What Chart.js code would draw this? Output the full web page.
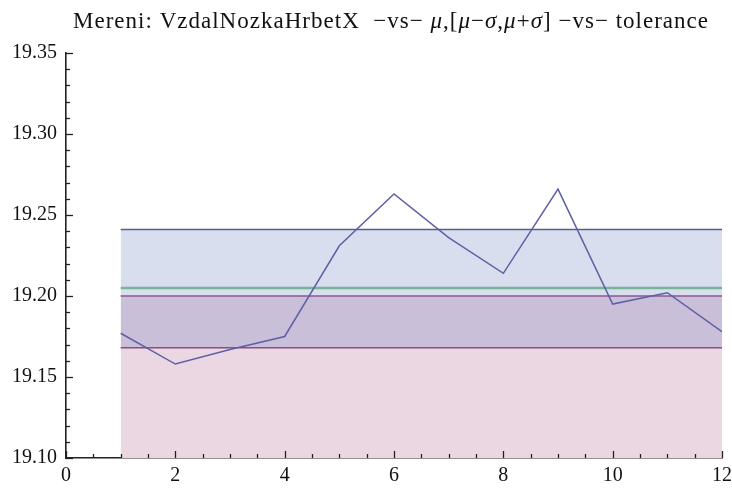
<!DOCTYPE html>
<html>
<head>
<meta charset="utf-8">
<script src="https://cdn.jsdelivr.net/npm/chart.js@4/dist/chart.umd.min.js"></script>
<style>
  html, body { margin: 0; padding: 0; background: #fff; }
  #wrap { width: 732px; height: 488px; position: relative; }
</style>
</head>
<body>
<div id="wrap"><canvas id="c" width="732" height="488"></canvas></div>
<script>
// Measurement index and measured values
const sampleIndex = [1, 2, 3, 4, 5, 6, 7, 8, 9, 10, 11, 12];
const measured = [19.177, 19.158, 19.167, 19.175, 19.231, 19.263, 19.236, 19.214, 19.266, 19.195, 19.202, 19.178];

// Statistics and tolerance limits
const meanValue = 19.205;
const sigmaLower = 19.168;
const sigmaUpper = 19.241;
const toleranceLower = 19.10;
const toleranceUpper = 19.20;

// Axis ticks
const xTickLabels = [0, 2, 4, 6, 8, 10, 12];
const yTickLabels = [19.10, 19.15, 19.20, 19.25, 19.30, 19.35];

const flat = v => sampleIndex.map(x => ({ x, y: v }));
const series = sampleIndex.map((x, i) => ({ x, y: measured[i] }));

const serif = '"Liberation Serif", "DejaVu Serif", serif';

// Title built from upright and italic runs
const titleRuns = [
  ['Mereni: VzdalNozkaHrbetX  \u2212vs\u2212 ', ''],
  ['\u03bc', 'italic '],
  [',[', ''],
  ['\u03bc', 'italic '],
  ['\u2212', ''],
  ['\u03c3', 'italic '],
  [',', ''],
  ['\u03bc', 'italic '],
  ['+', ''],
  ['\u03c3', 'italic '],
  ['] \u2212vs\u2212 tolerance', '']
];

const titlePlugin = {
  id: 'mixedTitle',
  afterDraw(chart) {
    const ctx = chart.ctx;
    const size = 23;
    const left = 73, right = 708, baseline = 28;
    ctx.save();
    ctx.fillStyle = '#111';
    ctx.textBaseline = 'alphabetic';
    // lay the characters out one by one so the line fills its span
    const glyphs = [];
    titleRuns.forEach(([t, s]) => {
      ctx.font = s + size + 'px ' + serif;
      for (const ch of t) glyphs.push([ch, s, ctx.measureText(ch).width]);
    });
    const natural = glyphs.reduce((acc, g) => acc + g[2], 0);
    const gap = (right - left - natural) / (glyphs.length - 1);
    let x = left;
    glyphs.forEach(([ch, s, w]) => {
      ctx.font = s + size + 'px ' + serif;
      ctx.fillText(ch, x, baseline);
      x += w + gap;
    });
    ctx.restore();
  }
};

// Inward tick marks along the left and bottom axes
const innerTicks = {
  id: 'innerTicks',
  afterDraw(chart) {
    const { ctx, scales: { x, y }, chartArea: a } = chart;
    ctx.save();
    ctx.strokeStyle = '#222';
    ctx.lineWidth = 1.3;
    for (let k = 0; k <= 24; k++) {
      const v = k * 0.5;
      const px = Math.round(x.getPixelForValue(v)) + 0.5;
      const len = (k % 4 === 0) ? 7 : 4;
      ctx.beginPath(); ctx.moveTo(px, a.bottom); ctx.lineTo(px, a.bottom - len); ctx.stroke();
    }
    for (let k = 0; k <= 25; k++) {
      const v = 19.10 + k * 0.01;
      const py = Math.round(y.getPixelForValue(v)) + 0.5;
      const len = (k % 5 === 0) ? 7 : 4;
      ctx.beginPath(); ctx.moveTo(a.left, py); ctx.lineTo(a.left + len, py); ctx.stroke();
    }
    ctx.restore();
  }
};

const lineBase = { pointRadius: 0, pointHoverRadius: 0, tension: 0 };

new Chart(document.getElementById('c'), {
  type: 'line',
  data: {
    datasets: [
      { ...lineBase, label: 'tolerance low', data: flat(toleranceLower), borderWidth: 0, borderColor: 'rgba(0,0,0,0)', fill: false, order: 7 },
      { ...lineBase, label: 'tolerance high', data: flat(toleranceUpper), borderWidth: 1.5, borderColor: 'rgb(150,80,130)', backgroundColor: 'rgb(235,215,226)', fill: '-1', order: 6 },
      { ...lineBase, label: 'mu - sigma', data: flat(sigmaLower), borderWidth: 1.5, borderColor: 'rgb(135,75,130)', fill: false, order: 5 },
      { ...lineBase, label: 'mu + sigma', data: flat(sigmaUpper), borderWidth: 1.5, borderColor: 'rgb(85,95,140)', backgroundColor: 'rgba(95,115,185,0.24)', fill: '-1', order: 4 },
      { ...lineBase, label: 'mu', data: flat(meanValue), borderWidth: 2.5, borderColor: 'rgb(120,180,150)', fill: false, order: 3 },
      { ...lineBase, label: 'VzdalNozkaHrbetX', data: series, borderWidth: 1.5, borderColor: 'rgb(95,95,165)', fill: false, order: 1 }
    ]
  },
  options: {
    responsive: false,
    animation: false,
    events: [],
    layout: { padding: { top: 53, right: 10, left: 0, bottom: 0 } },
    plugins: { legend: { display: false }, tooltip: { enabled: false }, title: { display: false } },
    scales: {
      x: {
        type: 'linear', min: 0, max: 12,
        afterBuildTicks: s => { s.ticks = xTickLabels.map(v => ({ value: v })); },
        afterFit: s => { s.height = 30; s.paddingLeft = 0; s.paddingRight = 0; },
        grid: { display: true, drawOnChartArea: false, drawTicks: false, color: 'rgba(0,0,0,0)' },
        border: { display: true, color: '#222', width: 1.6 },
        ticks: { padding: 6, color: '#111', font: { family: serif, size: 20 }, maxRotation: 0, autoSkip: false, callback: v => String(v) }
      },
      y: {
        type: 'linear', min: 19.10, max: 19.35,
        afterBuildTicks: s => { s.ticks = yTickLabels.map(v => ({ value: v })); },
        afterFit: s => { s.width = 66; s.paddingTop = 0; s.paddingBottom = 0; },
        grid: { display: true, drawOnChartArea: false, drawTicks: false, color: 'rgba(0,0,0,0)' },
        border: { display: true, color: '#222', width: 1.6 },
        ticks: { padding: 9, color: '#111', font: { family: serif, size: 20 }, autoSkip: false, callback: v => Number(v).toFixed(2) }
      }
    }
  },
  plugins: [titlePlugin, innerTicks]
});
</script>
</body>
</html>
